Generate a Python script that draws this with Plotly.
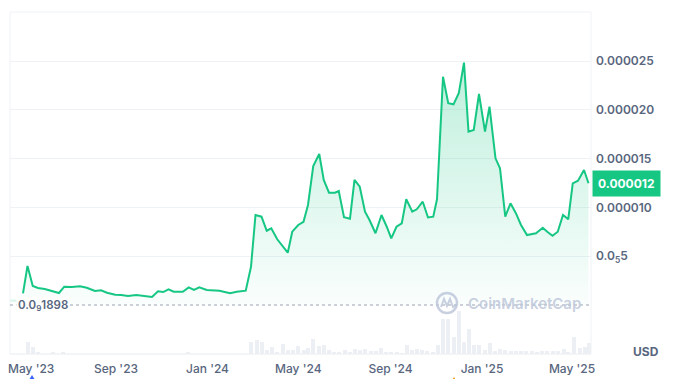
import plotly.graph_objects as go

# ---------------- data ----------------
price_dates = [
    "2023-04-30", "2023-05-06", "2023-05-13", "2023-05-20", "2023-05-29", "2023-06-07", "2023-06-17", "2023-06-24",
    "2023-07-04", "2023-07-15", "2023-07-24", "2023-08-04", "2023-08-12", "2023-08-20", "2023-08-31", "2023-09-08",
    "2023-09-17", "2023-09-28", "2023-10-07", "2023-10-19", "2023-10-27", "2023-11-03", "2023-11-10", "2023-11-17",
    "2023-11-29", "2023-12-07", "2023-12-14", "2023-12-21", "2023-12-31",
    "2024-01-09", "2024-01-17", "2024-01-31", "2024-02-09", "2024-02-21", "2024-02-28", "2024-03-05", "2024-03-13",
    "2024-03-20", "2024-03-26", "2024-04-03", "2024-04-09", "2024-04-17", "2024-04-23", "2024-05-01", "2024-05-08",
    "2024-05-14", "2024-05-21", "2024-05-29", "2024-06-04", "2024-06-11", "2024-06-19", "2024-06-24", "2024-07-01",
    "2024-07-09", "2024-07-15", "2024-07-22", "2024-07-29", "2024-08-04", "2024-08-12", "2024-08-20", "2024-08-27",
    "2024-09-02", "2024-09-09", "2024-09-16", "2024-09-22", "2024-09-30", "2024-10-06", "2024-10-14", "2024-10-21",
    "2024-10-28", "2024-11-02", "2024-11-10", "2024-11-17", "2024-11-24", "2024-12-01", "2024-12-08", "2024-12-14",
    "2024-12-21", "2024-12-28",
    "2025-01-05", "2025-01-11", "2025-01-19", "2025-01-25", "2025-02-01", "2025-02-08", "2025-02-15", "2025-02-22",
    "2025-03-02", "2025-03-14", "2025-03-23", "2025-03-29", "2025-04-05", "2025-04-12", "2025-04-19", "2025-04-26",
    "2025-05-02", "2025-05-09", "2025-05-17", "2025-05-23",
]
price_usd = [
    1.20e-6, 4.00e-6, 1.95e-6, 1.74e-6, 1.64e-6, 1.47e-6, 1.23e-6, 1.88e-6, 1.84e-6, 1.92e-6,
    1.77e-6, 1.43e-6, 1.51e-6, 1.26e-6, 1.06e-6, 1.02e-6, 0.92e-6, 1.02e-6, 0.92e-6, 0.82e-6,
    1.40e-6, 1.33e-6, 1.61e-6, 1.36e-6, 1.36e-6, 1.81e-6, 1.54e-6, 1.81e-6, 1.54e-6, 1.47e-6,
    1.47e-6, 1.20e-6, 1.36e-6, 1.47e-6, 3.92e-6, 9.22e-6, 9.05e-6, 7.61e-6, 7.86e-6, 6.73e-6,
    6.15e-6, 5.36e-6, 7.51e-6, 8.20e-6, 8.53e-6, 10.25e-6, 14.24e-6, 15.47e-6, 12.81e-6, 11.51e-6,
    11.51e-6, 11.68e-6, 8.99e-6, 8.84e-6, 12.81e-6, 12.12e-6, 9.56e-6, 8.71e-6, 7.35e-6, 9.22e-6,
    8.02e-6, 6.83e-6, 8.02e-6, 8.37e-6, 10.83e-6, 9.56e-6, 9.81e-6, 10.58e-6, 8.97e-6, 9.05e-6,
    10.83e-6, 23.39e-6, 20.67e-6, 20.56e-6, 21.69e-6, 24.83e-6, 17.76e-6, 17.93e-6, 21.62e-6, 17.76e-6,
    20.32e-6, 15.03e-6, 14.01e-6, 9.05e-6, 10.42e-6, 9.43e-6, 8.20e-6, 7.17e-6, 7.35e-6, 7.92e-6,
    7.51e-6, 7.10e-6, 7.51e-6, 9.22e-6, 8.78e-6, 12.47e-6, 12.74e-6, 13.83e-6, 12.47e-6,
]
# faint pre-listing segment
pre_dates = ["2023-04-12", "2023-04-30"]
pre_usd = [0.45e-6, 0.45e-6]

vol_dates = [
    "2023-05-07", "2023-05-13", "2023-05-20", "2023-06-09", "2023-06-22", "2023-12-06",
    "2024-02-28", "2024-03-07", "2024-03-13", "2024-03-20", "2024-03-27", "2024-04-03", "2024-04-10", "2024-04-17",
    "2024-04-24", "2024-05-01", "2024-05-08", "2024-05-14", "2024-05-21", "2024-05-29", "2024-06-04", "2024-06-11",
    "2024-06-18", "2024-06-24", "2024-07-02", "2024-07-09", "2024-07-15", "2024-07-22", "2024-07-29", "2024-08-06",
    "2024-08-12", "2024-08-19", "2024-08-26", "2024-09-02", "2024-09-09", "2024-09-16", "2024-09-23", "2024-09-30",
    "2024-10-06", "2024-10-13", "2024-10-20", "2024-10-28", "2024-11-03", "2024-11-10", "2024-11-17", "2024-11-25",
    "2024-12-01", "2024-12-08", "2024-12-14", "2024-12-21", "2024-12-28",
    "2025-01-05", "2025-01-11", "2025-01-18", "2025-01-25", "2025-02-01", "2025-02-08", "2025-02-15", "2025-02-22",
    "2025-03-01", "2025-03-08", "2025-03-15", "2025-03-22", "2025-03-29", "2025-04-05", "2025-04-12", "2025-04-20",
    "2025-04-26", "2025-05-03", "2025-05-11", "2025-05-18", "2025-05-24",
]
vol_index = [
    12, 7, 2, 2, 2, 1.5,
    11.7, 13.7, 12, 4, 6.7, 1.3, 9.7, 4,
    4, 8, 4, 5.7, 15, 8, 9, 4,
    2.3, 1.3, 4, 2, 4.7, 4, 4.7, 3,
    3, 6, 1.3, 2, 2.3, 1, 9, 4,
    4.7, 4, 2.7, 2, 9, 34.7, 34.7, 16.7,
    43, 11.7, 24.7, 8.7, 8.7,
    4, 10.7, 2.7, 5.3, 4, 3.3, 2.7, 3,
    2.7, 2.7, 2.3, 2.7, 2.7, 3, 2.7, 4.7,
    1.3, 16.7, 5.7, 7.3, 11.3,
]

y_tickvals = [5e-6, 10e-6, 15e-6, 20e-6, 25e-6]
y_ticktext = ["0.0<sub>5</sub>5", "0.000010", "0.000015", "0.000020", "0.000025"]
first_tick_label = "May '23"
current_label = "0.000012"
low_label = "0.0<sub>9</sub>1898"
low_value = 1.898e-10

# ---------------- styling ----------------
PAGE_W, PAGE_H = 678, 379
OFF = 8                      # browser default body margin
W, H = PAGE_W - OFF, PAGE_H - OFF
# plot-area edges in page pixels
L, R, T, B = 10, 591, 12, 354
GREEN = "#16c784"
GRID = "#eff2f5"
TXT = "#58667e"
WM = "rgba(190,200,218,0.85)"
FONT = "Inter"


def px_x(px):
    return (px - L) / (R - L)


def px_y(py):
    return (B - py) / (B - T)


fig = go.Figure()

fig.add_trace(go.Bar(
    x=vol_dates, y=vol_index, marker_color="#eceff3", marker_line_width=0,
    width=4.6e8, yaxis="y", hoverinfo="skip", showlegend=False,
))

fig.add_trace(go.Scatter(
    x=pre_dates, y=pre_usd, yaxis="y2", mode="lines",
    line=dict(color="rgba(22,199,132,0.18)", width=2), showlegend=False, hoverinfo="skip",
))

fig.add_trace(go.Scatter(
    x=price_dates, y=price_usd, yaxis="y2", mode="lines",
    line=dict(color=GREEN, width=2), fill="tozeroy",
    fillgradient=dict(type="vertical", start=0, stop=25e-6,
                      colorscale=[[0, "rgba(22,199,132,0.02)"], [1, "rgba(22,199,132,0.28)"]]),
    showlegend=False,
))

shapes = [
    dict(type="line", xref="paper", yref="paper", x0=0, x1=0, y0=0, y1=1, line=dict(color=GRID, width=1)),
    dict(type="line", xref="paper", yref="paper", x0=0, x1=1, y0=1, y1=1, line=dict(color=GRID, width=1)),
    dict(type="line", xref="paper", yref="paper", x0=1, x1=1, y0=0, y1=1, line=dict(color=GRID, width=1)),
    dict(type="line", xref="paper", yref="paper", x0=0, x1=1, y0=0, y1=0, line=dict(color=GRID, width=1.5)),
    dict(type="line", xref="paper", yref="y2", x0=0, x1=1, y0=low_value, y1=low_value,
         line=dict(color="#9aa3b2", width=1, dash="dot"), layer="above"),
    dict(type="circle", xref="paper", yref="paper",
         x0=px_x(437), x1=px_x(457), y0=px_y(313), y1=px_y(293),
         line=dict(color=WM, width=2.5), layer="above"),
    dict(type="path", xref="paper", yref="paper",
         path=("M {:.4f},{:.4f} L {:.4f},{:.4f} L {:.4f},{:.4f} L {:.4f},{:.4f} L {:.4f},{:.4f} L {:.4f},{:.4f}".format(
             px_x(441), px_y(307), px_x(444), px_y(299), px_x(447), px_y(306),
             px_x(450), px_y(299), px_x(453), px_y(307), px_x(456), px_y(305))),
         line=dict(color=WM, width=2), layer="above"),
    dict(type="path", xref="paper", yref="paper",
         path="M {:.4f},{:.4f} L {:.4f},{:.4f} L {:.4f},{:.4f} Z".format(
             px_x(29), px_y(380), px_x(35), px_y(380), px_x(32), px_y(375)),
         fillcolor="#3861fb", line=dict(width=0)),
    dict(type="path", xref="paper", yref="paper",
         path="M {:.4f},{:.4f} L {:.4f},{:.4f} L {:.4f},{:.4f} Z".format(
             px_x(452), px_y(380), px_x(456), px_y(380), px_x(454), px_y(377)),
         fillcolor="#f5a623", line=dict(width=0)),
]

annotations = [
    dict(xref="paper", yref="y2", x=0, y=low_value, xanchor="left", yanchor="middle", xshift=6,
         text=low_label, showarrow=False, bgcolor="white", borderpad=1,
         font=dict(family=FONT, size=11.5, color=TXT, weight=600)),
    dict(xref="paper", yref="y2", x=1, y=price_usd[-1], xanchor="left", yanchor="middle", xshift=1,
         text="<b>" + current_label + "</b>", showarrow=False, bgcolor=GREEN, borderpad=5,
         font=dict(family=FONT, size=12, color="white")),
    dict(xref="paper", yref="paper", x=px_x(466), y=px_y(303), xanchor="left", yanchor="middle",
         text="CoinMarketCap", showarrow=False,
         font=dict(family=FONT, size=15, color=WM, weight=600)),
    dict(xref="paper", yref="paper", x=px_x(646), y=px_y(351), xanchor="center", yanchor="middle",
         text="USD", showarrow=False, font=dict(family=FONT, size=12, color=TXT, weight=700)),
    dict(xref="paper", yref="paper", x=px_x(31), y=px_y(368), xanchor="center", yanchor="middle",
         text=first_tick_label, showarrow=False, font=dict(family=FONT, size=12, color=TXT, weight=500)),
]

fig.update_layout(
    width=W, height=H,
    margin=dict(l=L - OFF, r=PAGE_W - R, t=T - OFF, b=PAGE_H - B, autoexpand=False),
    paper_bgcolor="white", plot_bgcolor="white",
    bargap=0, showlegend=False,
    font=dict(family=FONT, size=12, color=TXT),
    xaxis=dict(
        type="date", range=["2023-04-12 16:00", "2025-05-26 08:00"],
        tick0="2023-09-01", dtick="M4", tickformat="%b '%y",
        showgrid=False, zeroline=False, showline=False, ticks="",
        tickfont=dict(family=FONT, size=12, color=TXT, weight=500),
        ticklabelstandoff=6, automargin=False,
    ),
    yaxis=dict(range=[0, B - T], visible=False, fixedrange=True),
    yaxis2=dict(
        overlaying="y", side="right", range=[-5.02e-6, 30.02e-6],
        tickvals=y_tickvals, ticktext=y_ticktext,
        showgrid=True, gridcolor=GRID, gridwidth=1, zeroline=False, showline=False, ticks="",
        tickfont=dict(family=FONT, size=12, color=TXT, weight=600),
        ticklabelstandoff=4, automargin=False,
    ),
    shapes=shapes, annotations=annotations,
)

fig.write_html("out.html")
